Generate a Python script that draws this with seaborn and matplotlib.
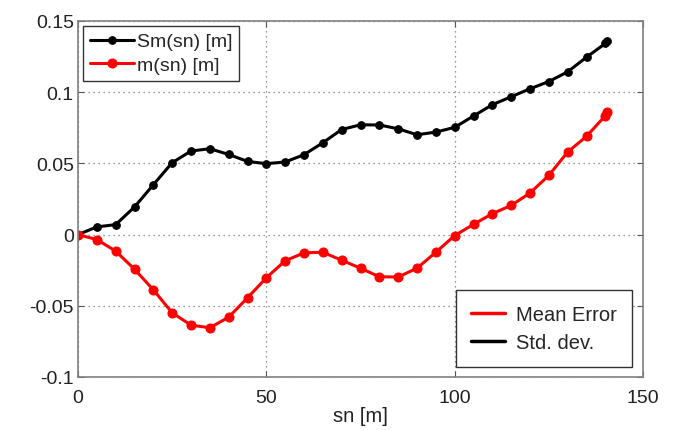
import matplotlib
matplotlib.use("Agg")
import matplotlib.pyplot as plt
from matplotlib.lines import Line2D
import seaborn as sns
import pandas as pd

sn = [0, 5, 10, 15, 20, 25, 30, 35, 40, 45, 50, 55, 60, 65, 70, 75, 80, 85, 90, 95,
      100, 105, 110, 115, 120, 125, 130, 135, 140, 140.4]
std_dev = [0.0, 0.0054, 0.007, 0.0194, 0.035, 0.0505, 0.0587, 0.0603, 0.0563, 0.0514,
           0.0498, 0.051, 0.0561, 0.0645, 0.0738, 0.0771, 0.077, 0.0743, 0.0701, 0.072,
           0.0753, 0.0833, 0.0912, 0.0968, 0.1024, 0.1075, 0.1143, 0.1246, 0.1342, 0.1362]
mean_err = [0.0, -0.0035, -0.0116, -0.0243, -0.0388, -0.0549, -0.0636, -0.0654, -0.058, -0.0444,
            -0.0303, -0.0184, -0.0128, -0.0124, -0.018, -0.0236, -0.0296, -0.0298, -0.0236, -0.0124,
            -0.0007, 0.0072, 0.0147, 0.0205, 0.0292, 0.0416, 0.058, 0.069, 0.0835, 0.0858]
x_ticks = [0, 50, 100, 150]
y_ticks = [-0.1, -0.05, 0, 0.05, 0.1, 0.15]
y_tick_labels = ["-0.1", "-0.05", "0", "0.05", "0.1", "0.15"]

sns.set_style("white")
plt.rcParams["font.family"] = ["Liberation Sans", "DejaVu Sans"]

df = pd.DataFrame({"sn": sn, "std": std_dev, "mean": mean_err})

fig = plt.figure(figsize=(6.8, 4.31), dpi=100)
L, R, T, B = 78, 643, 22, 378
ax = fig.add_axes([L / 680, 1 - B / 431, (R - L) / 680, (B - T) / 431])

sns.lineplot(data=df, x="sn", y="std", ax=ax, color="black", lw=2.2, marker="o",
             markersize=5.5, markeredgecolor="black", label="Sm(sn) [m]")
sns.lineplot(data=df, x="sn", y="mean", ax=ax, color="#ff0000", lw=2.2, marker="o",
             markersize=6.5, markeredgecolor="#ff0000", label="m(sn) [m]")

ax.set_xlim(0, 150)
ax.set_ylim(-0.1, 0.15)
ax.set_xticks(x_ticks)
ax.set_yticks(y_ticks)
ax.set_yticklabels(y_tick_labels)
ax.set_xlabel("sn [m]", fontsize=14.5, labelpad=0, color="#222222")
ax.set_ylabel("")
ax.tick_params(axis="both", labelsize=14, direction="in", length=4, color="#555555",
               labelcolor="#222222", top=True, right=True, bottom=True, left=True, pad=3)
ax.tick_params(axis="x", pad=9)
ax.grid(True, linestyle=(0, (1, 3)), color="#777777", linewidth=0.9)
for s in ax.spines.values():
    s.set_color("#808080")
    s.set_linewidth(1.2)

leg1 = ax.legend(loc="upper left", fontsize=14, frameon=True, fancybox=False,
                 edgecolor="#333333", framealpha=1, borderpad=0.35, handlelength=2.27,
                 handletextpad=0.15, labelspacing=0.3, borderaxespad=0.26)
leg1.get_frame().set_linewidth(1.0)
ax.add_artist(leg1)

h2 = [Line2D([], [], color="#ff0000", lw=2.5), Line2D([], [], color="black", lw=2.5)]
leg2 = ax.legend(h2, ["Mean Error", "Std. dev."], loc="lower right", fontsize=14.5,
                 frameon=True, fancybox=False, edgecolor="#333333", framealpha=1,
                 bbox_to_anchor=((632 - L) / (R - L), (B - 368) / (B - T)),
                 bbox_transform=ax.transAxes,
                 borderpad=0.75, handlelength=1.7, handletextpad=0.55, labelspacing=0.42,
                 borderaxespad=0)
leg2.get_frame().set_linewidth(1.0)

fig.savefig("out.png", dpi=100)
